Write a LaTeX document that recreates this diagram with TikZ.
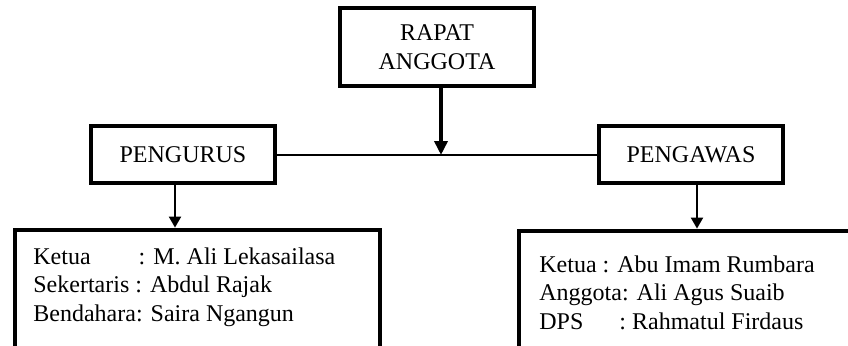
\documentclass[tikz,border=0pt]{standalone}
\usepackage{fontspec}
\setmainfont{Liberation Serif}
\usetikzlibrary{arrows.meta}

\begin{document}
\begin{tikzpicture}[x=0.5pt,y=-0.5pt,
    unitbox/.style={draw,line width=1.9pt,inner sep=0pt,align=center,
      font=\fontsize{12}{14.5}\selectfont},
    memberbox/.style={draw,line width=2.4pt,inner sep=0pt},
    memberlist/.style={anchor=north west,inner sep=0pt,align=left,
      font=\fontsize{12}{14.25}\selectfont},
    thinarrow/.style={line width=1pt,-{Triangle[length=5.5pt,width=6pt]}}]
    \useasboundingbox (0,0) rectangle (848,345);
    \clip (0,0) rectangle (848,345);

    \node[unitbox,minimum width=97pt,minimum height=39pt] (rapat) at (437,47) {RAPAT\\ANGGOTA};
    \node[unitbox,minimum width=92pt,minimum height=28.5pt] (pengurus) at (183,154.5) {PENGURUS};
    \node[unitbox,minimum width=92pt,minimum height=28.5pt] (pengawas) at (691,154.5) {PENGAWAS};
    \coordinate (junction) at (441,155);

    \draw[line width=1pt] (pengurus.east) -- (pengawas.west);
    \draw[line width=1.9pt,-{Triangle[length=7pt,width=6.5pt]}] (junction |- rapat.south) -- (junction);

    % lower boxes run past the bottom edge
    \node[memberbox,minimum width=182.5pt,minimum height=85pt] (pengurusbox) at (197.5,315) {};
    \node[memberbox,minimum width=190.5pt,minimum height=85pt] (pengawasbox) at (709.5,316) {};

    \draw[thinarrow] ([xshift=-4pt]pengurus.south) -- ([xshift=-4pt]pengurus.south |- pengurusbox.north);
    \draw[thinarrow] ([xshift=3pt]pengawas.south) -- ([xshift=3pt]pengawas.south |- pengawasbox.north);

    \node[memberlist] (pengurustext) at (33,247) {Ketua\hspace{21pt} : M. Ali Lekasailasa\\Sekertaris : Abdul Rajak\\Bendahara: Saira Ngangun};
    \node[memberlist] (pengawastext) at (539,255) {Ketua : Abu Imam Rumbara\\Anggota: Ali Agus Suaib\\DPS\hspace{15pt} : Rahmatul Firdaus};
\end{tikzpicture}
\end{document}
